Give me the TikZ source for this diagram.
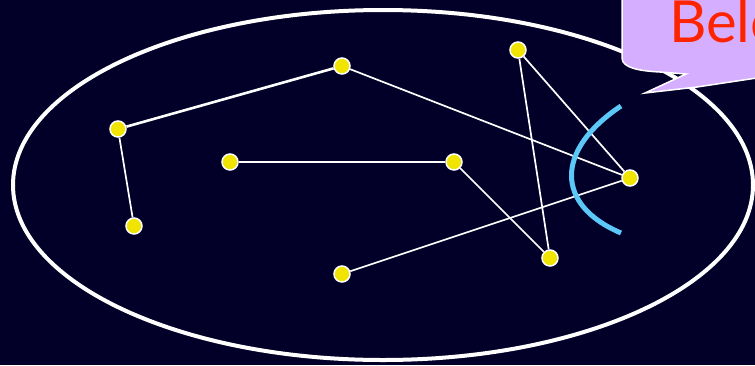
\documentclass[tikz,border=0pt]{standalone}
\usepackage{fontspec}
\setmainfont{Lato}
\usetikzlibrary{positioning}

\definecolor{night}{RGB}{2,0,40}
\definecolor{sun}{RGB}{240,228,0}
\definecolor{sky}{RGB}{92,200,248}
\definecolor{lilac}{RGB}{214,174,255}
\definecolor{flame}{RGB}{255,36,0}

\begin{document}
\begin{tikzpicture}[
    x=1pt, y=-1pt,
    dot/.style={
        circle, draw=white, fill=sun, line width=1.5pt,
        minimum size=16pt, inner sep=0pt
    },
    link/.style={draw=white, line width=1.7pt},
    rim/.style={draw=white, line width=4pt}
]

% Canvas
\useasboundingbox (0,0) rectangle (755,365);
\fill[night] (0,0) rectangle (755,365);
\clip (0,0) rectangle (755,365);

% Outer ellipse
\draw[rim] (383,185) ellipse [x radius=370, y radius=175];

% -------------------------
% Points
% -------------------------
\node[dot] (a) at (118,129) {};
\node[dot] (b) at (342,66) {};
\node[dot] (c) at (134,226) {};
\node[dot] (d) at (230,162) {};
\node[dot] (e) at (454,162) {};
\node[dot] (f) at (518,50) {};
\node[dot] (g) at (630,178) {};
\node[dot] (h) at (550,258) {};
\node[dot] (i) at (342,274) {};

% -------------------------
% Links
% -------------------------
\draw[link, line width=2.6pt] (a) -- (b);
\draw[link] (a) -- (c);
\draw[link] (b) -- (g);
\draw[link] (d) -- (e);
\draw[link] (e) -- (h);
\draw[link] (f) -- (h);
\draw[link] (f) -- (g);
\draw[link] (i) -- (g);

% Blue arc in front of g
\draw[sky, line width=5pt] (621,106) .. controls (555,150) and (555,205) .. (621,233);

% Callout, top right
\filldraw[fill=lilac, draw=white, line width=1.5pt]
    (622,-10) -- (622,58) .. controls (622,68) and (640,71) .. (660,72)
    -- (686,74) -- (645,93) -- (697,87) -- (770,76) -- (770,-10) -- cycle;
\node[anchor=base west, inner sep=0pt, text=flame,
      font=\fontsize{58}{58}\selectfont] (say) at (669,42) {Belo};

\end{tikzpicture}
\end{document}
